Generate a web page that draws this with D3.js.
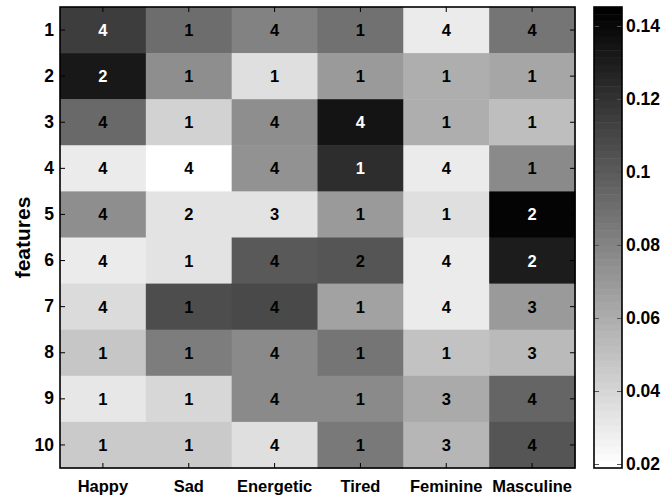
<!DOCTYPE html>
<html>
<head>
<meta charset="utf-8">
<script src="https://cdn.jsdelivr.net/npm/d3@7/dist/d3.min.js"></script>
<style>
  html, body { margin: 0; padding: 0; background: #fff; }
  svg { display: block; font-family: "Liberation Sans", Arial, Helvetica, sans-serif; font-weight: bold; }
</style>
</head>
<body>
<svg id="chart" width="662" height="496"></svg>
<script>
// Emotion categories (columns) and feature indices (rows)
const emotions = ["Happy", "Sad", "Energetic", "Tired", "Feminine", "Masculine"];
const features = ["1", "2", "3", "4", "5", "6", "7", "8", "9", "10"];

// Cell weights, one row per feature, one entry per emotion
const weights = [
  [0.115, 0.091, 0.082, 0.088, 0.030, 0.087],
  [0.132, 0.076, 0.036, 0.070, 0.060, 0.064],
  [0.093, 0.042, 0.075, 0.135, 0.060, 0.052],
  [0.029, 0.019, 0.073, 0.123, 0.029, 0.077],
  [0.076, 0.034, 0.034, 0.070, 0.035, 0.143],
  [0.029, 0.034, 0.101, 0.103, 0.030, 0.131],
  [0.038, 0.107, 0.109, 0.066, 0.029, 0.070],
  [0.048, 0.084, 0.077, 0.086, 0.049, 0.053],
  [0.031, 0.039, 0.078, 0.078, 0.061, 0.095],
  [0.046, 0.046, 0.035, 0.085, 0.056, 0.103]
];

// Integer annotation printed in each cell
const labels = [
  [4, 1, 4, 1, 4, 4],
  [2, 1, 1, 1, 1, 1],
  [4, 1, 4, 4, 1, 1],
  [4, 4, 4, 1, 4, 1],
  [4, 2, 3, 1, 1, 2],
  [4, 1, 4, 2, 4, 2],
  [4, 1, 4, 1, 4, 3],
  [1, 1, 4, 1, 1, 3],
  [1, 1, 4, 1, 3, 4],
  [1, 1, 4, 1, 3, 4]
];

// Colour limits and colorbar ticks
const colorLimits = [0.0189, 0.1452];
const colorbarTicks = [0.02, 0.04, 0.06, 0.08, 0.1, 0.12, 0.14];

const svg = d3.select("#chart");

// Plot frame
const plot = { left: 60, right: 575, top: 7, bottom: 468 };
const cbar = { left: 594, right: 622 };
const tickLen = 5;

const x = d3.scaleBand().domain(emotions).range([plot.left, plot.right]).padding(0);
const y = d3.scaleBand().domain(features).range([plot.top, plot.bottom]).padding(0);

// Inverted 64-level gray colormap (white = low, black = high)
const nLevels = 64;
const grays = d3.range(nLevels).map(i => {
  const g = Math.round(255 * (1 - i / (nLevels - 1)));
  return d3.rgb(g, g, g).toString();
});
const color = d3.scaleQuantize().domain(colorLimits).range(grays);

// Cells
const cells = [];
weights.forEach((row, r) => row.forEach((v, c) => {
  cells.push({ feature: features[r], emotion: emotions[c], value: v, label: labels[r][c] });
}));

svg.append("g").selectAll("rect")
  .data(cells)
  .join("rect")
  .attr("x", d => x(d.emotion))
  .attr("y", d => y(d.feature))
  .attr("width", x.bandwidth() + 0.5)
  .attr("height", y.bandwidth() + 0.5)
  .attr("fill", d => color(d.value));

svg.append("g").selectAll("text")
  .data(cells)
  .join("text")
  .attr("x", d => x(d.emotion) + x.bandwidth() / 2)
  .attr("y", d => y(d.feature) + y.bandwidth() / 2)
  .attr("text-anchor", "middle")
  .attr("dominant-baseline", "central")
  .attr("font-size", 16.5)
  .attr("fill", d => d.value > 0.112 ? "#fff" : "#000")
  .text(d => d.label);

// Axes: ticks pointing inward on all four sides, box drawn around the plot
const axisLeft = d3.axisLeft(y).tickSizeInner(-tickLen).tickSizeOuter(0).tickPadding(6);
const gLeft = svg.append("g").attr("transform", `translate(${plot.left},0)`).call(axisLeft);
gLeft.select(".domain").remove();
gLeft.selectAll("text").attr("font-size", 17.5).attr("font-family", "Liberation Sans, Arial, sans-serif").attr("font-weight", "bold").attr("fill", "#000");
gLeft.selectAll("line").attr("stroke", "#000");

const axisRight = d3.axisRight(y).tickSizeInner(-tickLen).tickSizeOuter(0).tickFormat("");
const gRight = svg.append("g").attr("transform", `translate(${plot.right},0)`).call(axisRight);
gRight.select(".domain").remove();
gRight.selectAll("line").attr("stroke", "#000");

const axisBottom = d3.axisBottom(x).tickSizeInner(-tickLen).tickSizeOuter(0).tickPadding(12);
const gBottom = svg.append("g").attr("transform", `translate(0,${plot.bottom})`).call(axisBottom);
gBottom.select(".domain").remove();
gBottom.selectAll("text").attr("font-size", 16.5).attr("font-family", "Liberation Sans, Arial, sans-serif").attr("font-weight", "bold").attr("fill", "#000");
gBottom.selectAll("line").attr("stroke", "#000");

const axisTop = d3.axisTop(x).tickSizeInner(-tickLen).tickSizeOuter(0).tickFormat("");
const gTop = svg.append("g").attr("transform", `translate(0,${plot.top})`).call(axisTop);
gTop.select(".domain").remove();
gTop.selectAll("line").attr("stroke", "#000");

svg.append("rect")
  .attr("x", plot.left).attr("y", plot.top)
  .attr("width", plot.right - plot.left).attr("height", plot.bottom - plot.top)
  .attr("fill", "none").attr("stroke", "#000").attr("stroke-width", 1.6);

// Y axis title
svg.append("text")
  .attr("transform", `translate(22,${(plot.top + plot.bottom) / 2}) rotate(-90)`)
  .attr("text-anchor", "middle")
  .attr("dominant-baseline", "central")
  .attr("font-size", 21)
  .text("features");

// Colorbar
const cy = d3.scaleLinear().domain(colorLimits).range([plot.bottom, plot.top]);
const step = (colorLimits[1] - colorLimits[0]) / nLevels;
const bands = d3.range(nLevels).map(i => colorLimits[0] + i * step);
svg.append("g").selectAll("rect")
  .data(bands)
  .join("rect")
  .attr("x", cbar.left)
  .attr("width", cbar.right - cbar.left)
  .attr("y", d => cy(d + step))
  .attr("height", d => cy(d) - cy(d + step) + 0.5)
  .attr("fill", d => color(d + step / 2));

const cbAxisRight = d3.axisRight(cy).tickValues(colorbarTicks).tickSizeInner(-tickLen).tickSizeOuter(0).tickPadding(4).tickFormat(d3.format("~g"));
const gCb = svg.append("g").attr("transform", `translate(${cbar.right},0)`).call(cbAxisRight);
gCb.select(".domain").remove();
gCb.selectAll("text").attr("font-size", 17.5).attr("font-family", "Liberation Sans, Arial, sans-serif").attr("font-weight", "bold").attr("fill", "#000");
gCb.selectAll("line").attr("stroke", "#555");

const cbAxisLeft = d3.axisLeft(cy).tickValues(colorbarTicks).tickSizeInner(-tickLen).tickSizeOuter(0).tickFormat("");
const gCbL = svg.append("g").attr("transform", `translate(${cbar.left},0)`).call(cbAxisLeft);
gCbL.select(".domain").remove();
gCbL.selectAll("line").attr("stroke", "#555");

svg.append("rect")
  .attr("x", cbar.left).attr("y", plot.top)
  .attr("width", cbar.right - cbar.left).attr("height", plot.bottom - plot.top)
  .attr("fill", "none").attr("stroke", "#000").attr("stroke-width", 1.6);
</script>
</body>
</html>
